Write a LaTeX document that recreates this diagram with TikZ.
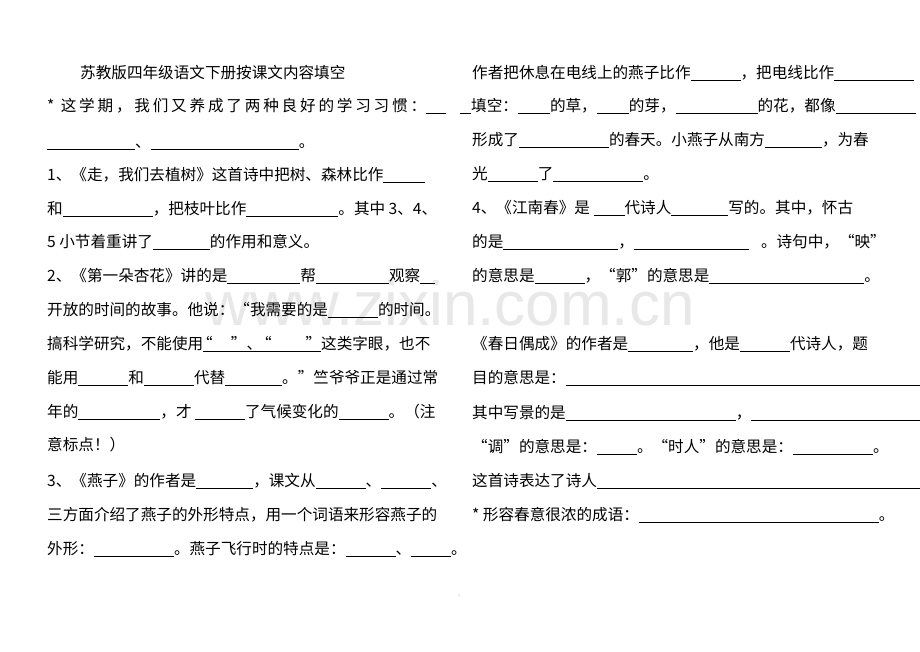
\documentclass[tikz,border=0pt]{standalone}
\usepackage{fontspec}
\setmainfont{Noto Sans CJK SC}
\newfontfamily\wmfont{Liberation Sans}
\usetikzlibrary{positioning}
\newcommand{\blankline}[1]{\rule[-2.5pt]{#1pt}{0.9pt}}
\begin{document}
\begin{tikzpicture}[x=1pt,y=-1pt,
    line/.style={anchor=base west, inner sep=0pt, font=\fontsize{15.6}{18}\selectfont}]
  \useasboundingbox (0,0) rectangle (920,651);
  \fill[white] (0,0) rectangle (920,651);

  % watermark
  \node[text=black!9, font=\wmfont\fontsize{62}{62}\selectfont] (wm) at (450,303) {www.zixin.com.cn};

  % left column
  \node[line] (title) at (80,78) {苏教版四年级语文下册按课文内容填空};
  \node[line] (l1) at (47,111) {\addfontfeature{LetterSpace=18}* 这学期，我们又养成了两种良好的学习习惯：\blankline{20}};
  \node[line] (l2) at (47,147) {\blankline{88}、\blankline{148}。};
  \node[line] (l3) at (47,180) {1、《走，我们去植树》这首诗中把树、森林比作\blankline{42}};
  \node[line] (l4) at (47,214) {和\blankline{90}，把枝叶比作\blankline{92}。其中 3、4、};
  \node[line] (l5) at (47,247) {5 小节着重讲了\blankline{57}的作用和意义。};
  \node[line] (l6) at (47,281) {2、《第一朵杏花》讲的是\blankline{73}帮\blankline{73}观察\blankline{15}};
  \node[line] (l7) at (47,315) {开放的时间的故事。他说：“我需要的是\blankline{50}的时间。};
  \node[line] (l8) at (47,349) {搞科学研究，不能使用\makebox[0pt][l]{\blankline{118}}\makebox[59pt][s]{\hspace{-6pt}“\hfill”、}\makebox[59pt][s]{\hspace{-6pt}“\hfill”}这类字眼，也不};
  \node[line] (l9) at (47,383) {能用\blankline{50}和\blankline{50}代替\blankline{57}。”竺爷爷正是通过常};
  \node[line] (l10) at (47,417) {年的\blankline{82}，才 \blankline{50}了气候变化的\blankline{50}。（注};
  \node[line] (l11) at (47,450) {意标点！）};
  \node[line] (l12) at (47,486) {3、《燕子》的作者是\blankline{57}，课文从\blankline{50}、\blankline{50}、};
  \node[line] (l13) at (47,520) {三方面介绍了燕子的外形特点，用一个词语来形容燕子的};
  \node[line] (l14) at (47,554) {外形：\blankline{80}。燕子飞行时的特点是：\blankline{50}、\blankline{40}。};

  % right column
  \node[line] (r1) at (472,78) {作者把休息在电线上的燕子比作\blankline{50}，把电线比作\blankline{80}};
  \node[line] (r2) at (460,111) {\blankline{11}填空：\blankline{32}的草，\blankline{32}的芽，\blankline{82}的花，都像\blankline{80}};
  \node[line] (r3) at (472,145) {形成了\blankline{90}的春天。小燕子从南方\blankline{57}，为春};
  \node[line] (r4) at (472,179) {光\blankline{50}了\blankline{90}。};
  \node[line] (r5) at (472,213) {4、《江南春》是 \blankline{31}代诗人\blankline{57}写的。其中，怀古};
  \node[line] (r6) at (472,247) {的是\blankline{115}，\blankline{115}\hspace{12pt}。诗句中，“映”};
  \node[line] (r7) at (472,281) {的意思是\blankline{50}，“郭”的意思是\blankline{155}。};
  \node[line] (r8) at (472,349) {《春日偶成》的作者是\blankline{65}，他是\blankline{50}代诗人，题};
  \node[line] (r9) at (472,383) {目的意思是：\blankline{400}};
  \node[line] (r10) at (472,418) {其中写景的是\blankline{170}，\blankline{200}};
  \node[line] (r11) at (472,452) {“调”的意思是：\blankline{40}。“时人”的意思是：\blankline{80}。};
  \node[line] (r12) at (472,486) {这首诗表达了诗人\blankline{400}};
  \node[line] (r13) at (472,520) {* 形容春意很浓的成语：\blankline{240}。};
  \node[line, text=black!25, font=\fontsize{6}{6}\selectfont] (dot) at (458,596) {。};
\end{tikzpicture}
\end{document}
